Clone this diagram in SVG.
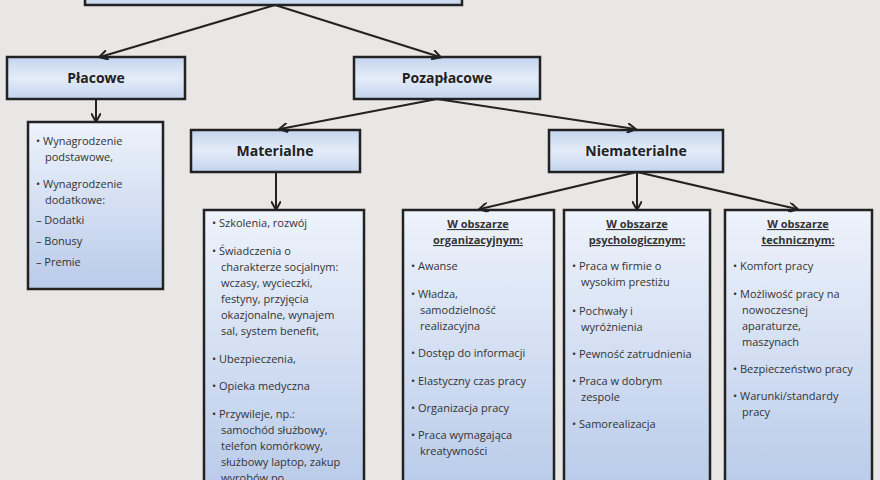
<svg xmlns="http://www.w3.org/2000/svg" width="880" height="480" viewBox="0 0 880 480">
<defs>
<linearGradient id="g" x1="0" y1="0" x2="0" y2="1"><stop offset="0" stop-color="#c3d4ef"/><stop offset="0.5" stop-color="#e4ecf8"/><stop offset="1" stop-color="#c3d4ef"/></linearGradient>
<linearGradient id="g2" x1="0" y1="0" x2="0" y2="1"><stop offset="0" stop-color="#eef3fb"/><stop offset="1" stop-color="#b9cbea"/></linearGradient>
<marker id="a" markerWidth="10" markerHeight="10" refX="8" refY="5" orient="auto" markerUnits="userSpaceOnUse"><path d="M0,0 L9,5 L0,10" fill="none" stroke="#222" stroke-width="2"/></marker>
</defs>
<style>
.h{fill:url(#g);stroke:#222;stroke-width:2.5}
.l{fill:url(#g2);stroke:#222;stroke-width:2.5}
.t{font-family:"Open Sans","Liberation Sans",sans-serif;font-weight:bold;font-size:14px;fill:#222;text-anchor:middle}
.b{font-family:"Open Sans","Liberation Sans",sans-serif;font-size:11px;fill:#333}
.u{font-family:"Open Sans","Liberation Sans",sans-serif;font-size:11px;fill:#333;font-weight:bold;text-decoration:underline;text-anchor:middle}
.c line{stroke:#222;stroke-width:2;marker-end:url(#a)}
</style>
<rect width="880" height="480" fill="#e9e7e5"/>
<g id="top"><rect class="h" x="85" y="-20" width="377" height="25"/></g>
<g id="placowe"><rect class="h" x="7" y="57" width="178" height="42"/><text class="t" x="96" y="83">Płacowe</text></g>
<g id="pozaplacowe"><rect class="h" x="354" y="57" width="186" height="42"/><text class="t" x="447" y="83">Pozapłacowe</text></g>
<g id="materialne"><rect class="h" x="191" y="130" width="169" height="42"/><text class="t" x="275" y="156">Materialne</text></g>
<g id="niematerialne"><rect class="h" x="549" y="130" width="174" height="42"/><text class="t" x="636" y="156">Niematerialne</text></g>
<g id="placowe-list"><rect class="l" x="28" y="122" width="135" height="167"/>
<text class="b" x="36" y="145">• Wynagrodzenie</text><text class="b" x="45" y="161">podstawowe,</text>
<text class="b" x="36" y="188">• Wynagrodzenie</text><text class="b" x="45" y="204">dodatkowe:</text>
<text class="b" x="36" y="224">–  Dodatki</text><text class="b" x="36" y="245">–  Bonusy</text><text class="b" x="36" y="266">–  Premie</text></g>
<g id="materialne-list"><rect class="l" x="204" y="210" width="160" height="280"/>
<text class="b" x="212" y="227">• Szkolenia, rozwój</text>
<text class="b" x="212" y="255">• Świadczenia o</text><text class="b" x="221" y="271">charakterze socjalnym:</text><text class="b" x="221" y="287">wczasy, wycieczki,</text><text class="b" x="221" y="303">festyny, przyjęcia</text><text class="b" x="221" y="319">okazjonalne, wynajem</text><text class="b" x="221" y="335">sal, system benefit,</text>
<text class="b" x="212" y="363">• Ubezpieczenia,</text>
<text class="b" x="212" y="390">• Opieka medyczna</text>
<text class="b" x="212" y="418">• Przywileje, np.:</text><text class="b" x="221" y="434">samochód służbowy,</text><text class="b" x="221" y="450">telefon komórkowy,</text><text class="b" x="221" y="466">służbowy laptop, zakup</text><text class="b" x="221" y="482">wyrobów po</text></g>
<g id="org"><rect class="l" x="403" y="210" width="151" height="280"/>
<text class="u" x="478" y="228">W obszarze</text><text class="u" x="478" y="244">organizacyjnym:</text>
<text class="b" x="411" y="270">• Awanse</text>
<text class="b" x="411" y="298">• Władza,</text><text class="b" x="420" y="314">samodzielność</text><text class="b" x="420" y="330">realizacyjna</text>
<text class="b" x="411" y="357">• Dostęp do informacji</text>
<text class="b" x="411" y="385">• Elastyczny czas pracy</text>
<text class="b" x="411" y="412">• Organizacja pracy</text>
<text class="b" x="411" y="439">• Praca wymagająca</text><text class="b" x="420" y="455">kreatywności</text></g>
<g id="psych"><rect class="l" x="564" y="210" width="146" height="280"/>
<text class="u" x="637" y="228">W obszarze</text><text class="u" x="637" y="244">psychologicznym:</text>
<text class="b" x="572" y="270">• Praca w firmie o</text><text class="b" x="581" y="286">wysokim prestiżu</text>
<text class="b" x="572" y="315">• Pochwały i</text><text class="b" x="581" y="331">wyróżnienia</text>
<text class="b" x="572" y="358">• Pewność zatrudnienia</text>
<text class="b" x="572" y="385">• Praca w dobrym</text><text class="b" x="581" y="401">zespole</text>
<text class="b" x="572" y="428">• Samorealizacja</text></g>
<g id="tech"><rect class="l" x="725" y="210" width="147" height="280"/>
<text class="u" x="798" y="228">W obszarze</text><text class="u" x="798" y="244">technicznym:</text>
<text class="b" x="733" y="270">• Komfort pracy</text>
<text class="b" x="733" y="298">• Możliwość pracy na</text><text class="b" x="742" y="314">nowoczesnej</text><text class="b" x="742" y="330">aparaturze,</text><text class="b" x="742" y="346">maszynach</text>
<text class="b" x="733" y="373">• Bezpieczeństwo pracy</text>
<text class="b" x="733" y="400">• Warunki/standardy</text><text class="b" x="742" y="416">pracy</text></g>
<g id="connectors" class="c">
<line x1="275" y1="5" x2="100" y2="57"/><line x1="275" y1="5" x2="440" y2="57"/>
<line x1="96" y1="99" x2="96" y2="121"/>
<line x1="437" y1="99" x2="280" y2="129"/><line x1="437" y1="99" x2="635" y2="129"/>
<line x1="276" y1="172" x2="276" y2="209"/>
<line x1="637" y1="172" x2="480" y2="209"/><line x1="637" y1="172" x2="637" y2="209"/><line x1="637" y1="172" x2="797" y2="209"/>
</g>
</svg>
